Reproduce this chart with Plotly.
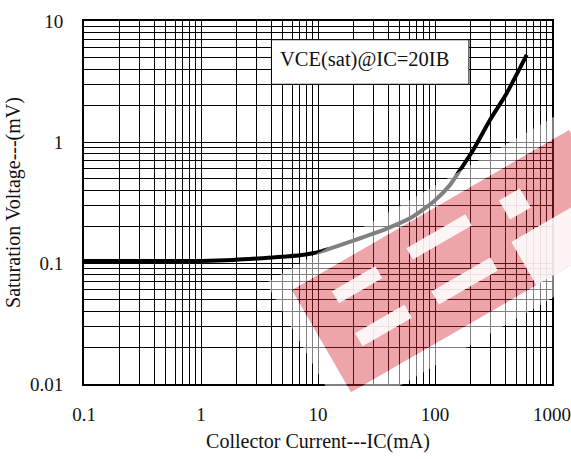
import math
import plotly.graph_objects as go

# ---- data ----
ic_ma = [0.1, 0.3, 1, 1.9, 4, 7, 10.4, 18.8, 36, 61, 97, 134, 164, 212, 295, 410, 608]
vce_mv = [0.104, 0.104, 0.104, 0.106, 0.111, 0.116, 0.124, 0.150, 0.187, 0.234, 0.321, 0.44, 0.587, 0.86, 1.52, 2.53, 5.24]

x_tickvals = [0.1, 1, 10, 100, 1000]
x_ticktext = ["0.1", "1", "10", "100", "1000"]
y_tickvals = [0.01, 0.1, 1, 10]
y_ticktext = ["0.01", "0.1", "1", "10"]

note_text = "VCE(sat)@IC=20IB"
x_title = "Collector Current---IC(mA)"
y_title = "Saturation Voltage---(mV)"

# ---- layout geometry (pixels) ----
W, H = 571, 459
ML, MR, MT, MB = 84, 19, 21, 75
PW, PH = W - ML - MR, H - MT - MB

def px2paper(px, py):
    return (px - ML) / PW, 1 - (py - MT) / PH

def logx2paper(v):
    return (math.log10(v) + 1) / 4

def logy2paper(v):
    return (math.log10(v) + 2) / 3

# watermark frame
O = (292.0, 290.0)
ang = math.radians(30)
uh = (math.cos(ang), -math.sin(ang))
vh = (math.sin(ang), math.cos(ang))

def uv(u, v):
    px = O[0] + u * uh[0] + v * vh[0]
    py = O[1] + u * uh[1] + v * vh[1]
    return px2paper(px, py)

def rect_path(u0, u1, v0, v1, reverse=False):
    pts = [(u0, v0), (u1, v0), (u1, v1), (u0, v1)]
    if reverse:
        pts = pts[::-1]
    s = ""
    for i, (a, b) in enumerate(pts):
        xp, yp = uv(a, b)
        s += ("M" if i == 0 else "L") + f"{xp:.5f},{yp:.5f} "
    return s + "Z "

fig = go.Figure()
fig.add_trace(go.Scatter(
    x=ic_ma, y=vce_mv, mode="lines",
    line=dict(color="black", width=4, shape="spline", smoothing=0.6),
    hoverinfo="skip", showlegend=False,
))

shapes = []
# note box (4 mA..200 mA, 3..7 mV)
shapes.append(dict(type="rect", xref="paper", yref="paper",
                   x0=logx2paper(4), x1=logx2paper(195), y0=logy2paper(3), y1=logy2paper(7),
                   fillcolor="white", line=dict(color="black", width=1), layer="above"))
# watermark halo (ring)
halo = 19
shapes.append(dict(type="path", xref="paper", yref="paper",
                   path=rect_path(-halo, 320 + halo, -halo, 118 + halo) + rect_path(0, 320, 0, 118, reverse=True),
                   fillcolor="rgba(255,255,255,0.5)", line=dict(width=0), layer="above"))
# red body
shapes.append(dict(type="path", xref="paper", yref="paper",
                   path=rect_path(0, 320, 0, 118),
                   fillcolor="rgba(215,40,50,0.42)", line=dict(width=0), layer="above"))
# white cut-outs
for (u0, u1, v0, v1) in [(34, 84, 21, 35), (33, 90, 69, 84), (120, 188, 21, 34),
                         (120, 188, 71, 86), (224, 248, 26, 48), (214, 330, 68, 118)]:
    shapes.append(dict(type="path", xref="paper", yref="paper",
                       path=rect_path(u0, u1, v0, v1),
                       fillcolor="rgba(255,255,255,0.88)", line=dict(width=0), layer="above"))

fx, fy = px2paper(278, 60)
font_main = dict(family="Liberation Serif, Times New Roman, serif", size=19, color="#111")
font_title = dict(family="Liberation Serif, Times New Roman, serif", size=20, color="#111")

fig.update_layout(
    width=W, height=H,
    margin=dict(l=ML, r=MR, t=MT, b=MB, autoexpand=False),
    paper_bgcolor="white", plot_bgcolor="white",
    shapes=shapes,
    annotations=[dict(text=note_text, xref="paper", yref="paper", x=fx, y=fy,
                      xanchor="left", yanchor="middle", showarrow=False,
                      font=dict(family="Liberation Serif, Times New Roman, serif", size=20.5, color="#111"))],
    font=font_main,
)

axis_common = dict(
    type="log", showgrid=True, gridcolor="black", gridwidth=1,
    minor=dict(showgrid=True, gridcolor="black", gridwidth=1, dtick="D1", ticks=""),
    showline=True, linecolor="black", linewidth=2, mirror=True,
    ticks="", zeroline=False, tickfont=font_main, automargin=False,
)
fig.update_xaxes(**axis_common, range=[-1, 3], tickmode="array",
                 tickvals=x_tickvals, ticktext=x_ticktext, ticklabelstandoff=12,
                 title=dict(text=x_title, font=font_title, standoff=10))
fig.update_yaxes(**axis_common, range=[-2, 1], tickmode="array",
                 tickvals=y_tickvals, ticktext=y_ticktext, ticklabelstandoff=15,
                 title=dict(text=y_title, font=font_title, standoff=4))

fig.write_html("out.html", config={"displayModeBar": False},
               post_script="document.body.style.margin='0';document.body.style.overflow='hidden';")
